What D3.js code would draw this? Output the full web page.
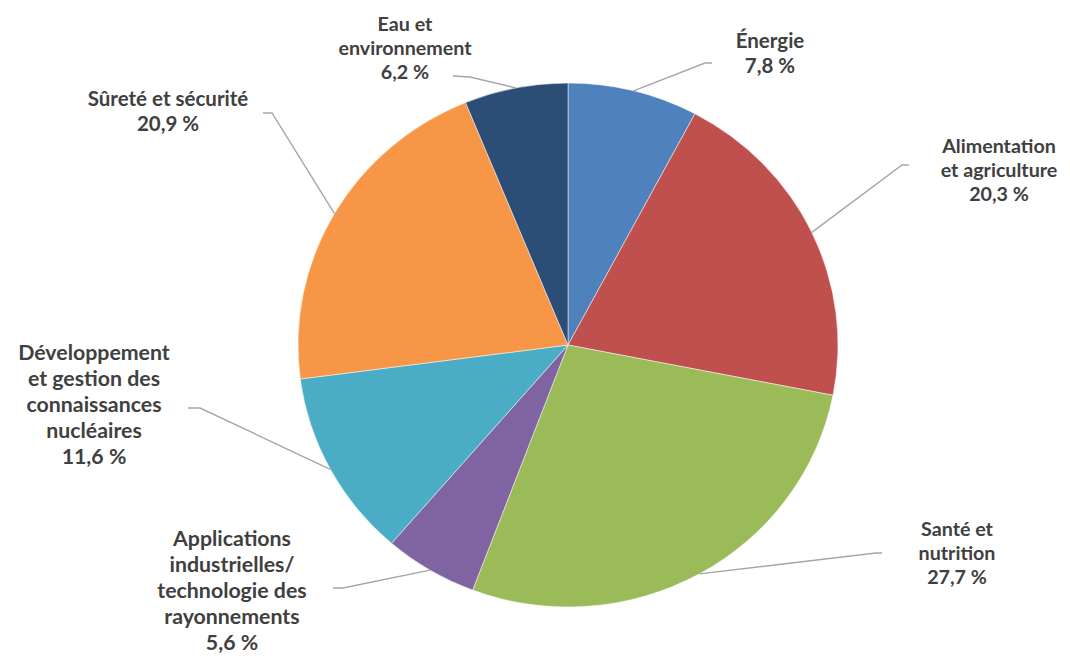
<!DOCTYPE html>
<html><head><meta charset="utf-8">
<script src="https://cdn.jsdelivr.net/npm/d3@7"></script>
<style>html,body{margin:0;padding:0;background:#fff;}svg{display:block;}</style>
</head><body>
<script>
// ---- data ----
const categories = [
  "Énergie",
  "Alimentation|et agriculture",
  "Santé et|nutrition",
  "Applications|industrielles/|technologie des|rayonnements",
  "Développement|et gestion des|connaissances|nucléaires",
  "Sûreté et sécurité",
  "Eau et|environnement"
];
const values = [7.8, 20.3, 27.7, 5.6, 11.6, 20.9, 6.2];
const colors = ["#4F81BD", "#C0504D", "#9BBB59", "#8064A2", "#4BACC6", "#F79646", "#2C4D75"];

// ---- layout (label placement) ----
const labelLayout = [
  {x: 770, y: 40,  dy: 25,  w: 75,  line: [[705, 63], [712, 63]]},
  {x: 999, y: 145, dy: 24,  w: 135, line: [[902, 165], [909, 165]]},
  {x: 957, y: 528, dy: 24,  w: 88,  line: [[876, 553], [882, 553]]},
  {x: 232, y: 538, dy: 26,  w: 155, line: [[343, 588], [333, 588]]},
  {x: 94,  y: 352, dy: 26,  w: 163, line: [[200, 408], [188, 408]]},
  {x: 168, y: 98,  dy: 25,  w: 183, line: [[272, 113], [263, 113]]},
  {x: 405, y: 23,  dy: 24,  w: 156, line: [[470, 77], [453, 76]]}
];

const W = 1070, H = 662;
const cx = 568, cy = 345, rx = 270, ry = 262;

const svg = d3.select("body").append("svg").attr("width", W).attr("height", H);

const pie = d3.pie().sort(null).value(d => d)(values);
const arc = d3.arc().innerRadius(0).outerRadius(rx);

const g = svg.append("g").attr("transform", `translate(${cx},${cy}) scale(1,${ry/rx})`);
g.selectAll("path").data(pie).join("path")
  .attr("d", arc)
  .attr("fill", (d, i) => colors[i])
  .attr("stroke", "#fff").attr("stroke-width", 0.5);

const fmt = v => d3.format(".1f")(v).replace(".", ",") + " %";

// leader lines
pie.forEach((d, i) => {
  const a = (d.startAngle + d.endAngle) / 2;
  const ex = cx + rx * Math.sin(a), ey = cy - ry * Math.cos(a);
  const L = labelLayout[i].line;
  svg.append("polyline")
    .attr("points", [[ex, ey], ...L].map(p => p.join(",")).join(" "))
    .attr("fill", "none").attr("stroke", "#a6a6a6").attr("stroke-width", 1.4);
});

// labels
categories.forEach((c, i) => {
  const lay = labelLayout[i];
  const lines = c.split("|").concat([fmt(values[i])]);
  const t = svg.append("text")
    .attr("font-family", "Lato, 'Open Sans', sans-serif")
    .attr("font-weight", 700)
    .attr("font-size", 20)
    .attr("fill", "#404040")
    .attr("text-anchor", "middle");
  lines.forEach((ln, k) => {
    t.append("tspan").attr("x", lay.x).attr("y", lay.y + k * lay.dy)
      .attr("dominant-baseline", "central").text(ln);
  });
  let maxW = 0;
  t.selectAll("tspan").each(function(){ maxW = Math.max(maxW, this.getComputedTextLength()); });
  const fs = Math.min(20 * lay.w / maxW, lay.dy * 0.82);
  t.attr("font-size", fs.toFixed(2));
});
</script>
</body></html>
